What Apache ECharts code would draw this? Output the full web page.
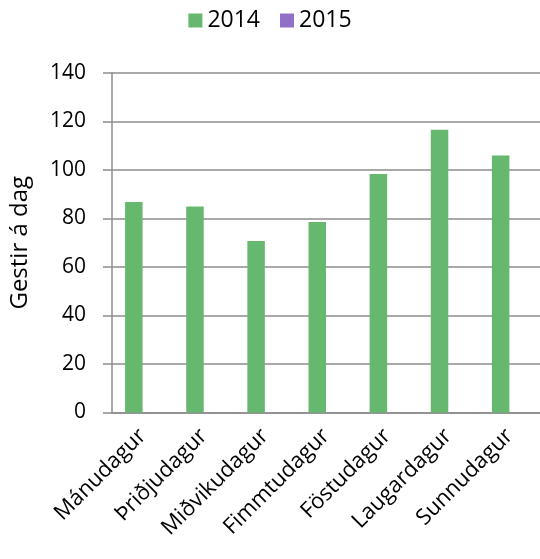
<!DOCTYPE html>
<html>
<head>
<meta charset="utf-8">
<script src="https://cdn.jsdelivr.net/npm/echarts@6/dist/echarts.min.js"></script>
<style>
    html, body { margin: 0; padding: 0; background: #fff; }
    #chart { width: 540px; height: 559px; }
</style>
</head>
<body>
<div id="chart"></div>
<script>
let days = ['Mánudagur', 'Þriðjudagur', 'Miðvikudagur', 'Fimmtudagur', 'Föstudagur', 'Laugardagur', 'Sunnudagur']
let visits2014 = [86.8, 84.9, 70.7, 78.6, 98.4, 116.6, 106.0]
let visits2015 = [null, null, null, null, null, null, null]
let yTicks = { min: 0, max: 140, interval: 20 }

let font = 'Open Sans'
let gridColor = '#8c8c8c'

let chart = echarts.init(document.getElementById('chart'))

let chartOpt = {
    animation: false,
    textStyle: { fontFamily: font },
    color: ['#66b86e', '#9370c8'],
    legend: {
        top: 4,
        left: 'center',
        icon: 'rect',
        itemWidth: 14,
        itemHeight: 14,
        itemGap: 20,
        textStyle: { fontFamily: font, fontSize: 23, color: '#000' },
        data: ['2014', '2015']
    },
    grid: {
        left: 112,
        right: 0,
        top: 73,
        bottom: 146.5
    },
    xAxis: {
        type: 'category',
        data: days,
        axisLine: { lineStyle: { color: gridColor, width: 1.5 } },
        axisTick: { length: 9, lineStyle: { color: gridColor, width: 1.5 } },
        axisLabel: {
            rotate: 45,
            interval: 0,
            margin: 20,
            fontFamily: font,
            fontSize: 22,
            color: '#000'
        }
    },
    yAxis: {
        type: 'value',
        min: yTicks.min,
        max: yTicks.max,
        interval: yTicks.interval,
        name: 'Gestir á dag',
        nameLocation: 'middle',
        nameGap: 80,
        nameTextStyle: { fontFamily: font, fontSize: 24, color: '#000' },
        axisLine: { show: true, lineStyle: { color: gridColor, width: 1.5 } },
        axisTick: { show: true, length: 9, lineStyle: { color: gridColor, width: 1.5 } },
        axisLabel: { margin: 26, fontFamily: font, fontSize: 21, color: '#000' },
        splitLine: { lineStyle: { color: gridColor, width: 1.5 } }
    },
    series: [{
        name: '2014',
        type: 'bar',
        barWidth: 17.5,
        barGap: '0%',
        data: visits2014
    }, {
        name: '2015',
        type: 'bar',
        barWidth: 17.5,
        barGap: '0%',
        data: visits2015
    }]
}

chart.setOption(chartOpt)
</script>
</body>
</html>
